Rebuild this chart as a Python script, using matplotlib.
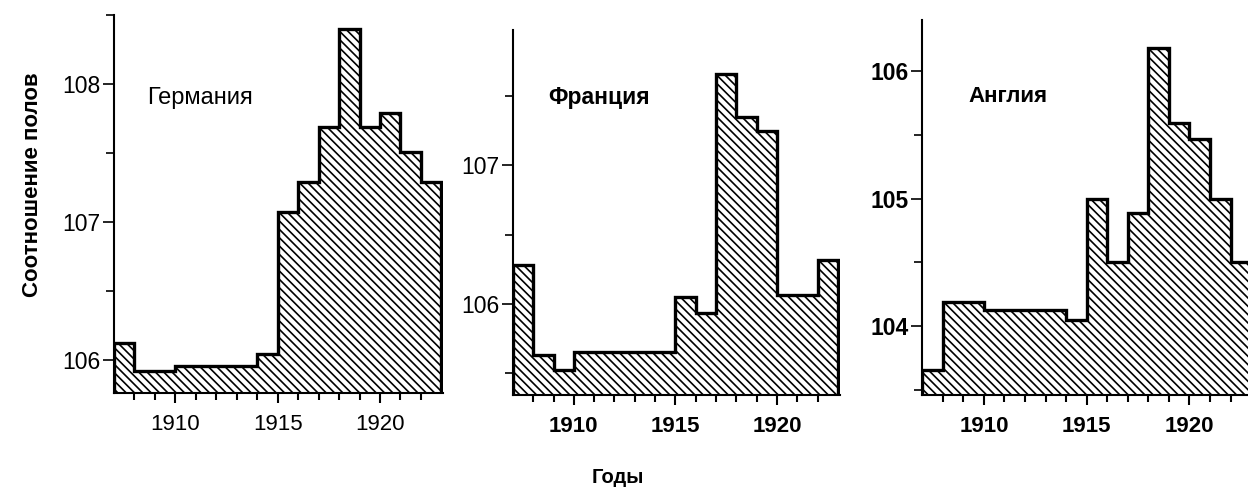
import numpy as np
from matplotlib import pyplot as plt

plt.rcParams['font.family'] = ['Liberation Sans', 'DejaVu Sans']
plt.rcParams['hatch.linewidth'] = 1.2

# годы (левые края столбиков) 1907..1922
years = np.arange(1907, 1923)
edges = np.arange(1907, 1924)

germany = [106.12, 105.92, 105.92, 105.96, 105.96, 105.96, 105.96, 106.04,
           107.07, 107.29, 107.69, 108.40, 107.69, 107.79, 107.51, 107.29]
france = [106.28, 105.63, 105.52, 105.65, 105.65, 105.65, 105.65, 105.65,
          106.05, 105.93, 107.66, 107.35, 107.25, 106.06, 106.06, 106.32]
england = [103.66, 104.19, 104.19, 104.13, 104.13, 104.13, 104.13, 104.05,
           105.00, 104.50, 104.89, 106.18, 105.59, 105.47, 105.00, 104.50]

names = ["Германия", "Франция", "Англия"]
major_x = [1910, 1915, 1920]
minor_x = np.arange(1908, 1923)

fig = plt.figure(figsize=(12.48, 4.97), dpi=100)

# позиции осей, пределы, тики
panels = [
    # (data, rect, ylim, yticks major, yticks minor, title pos, bold, title size)
    (germany, [0.0913, 0.209, 0.264, 0.761], (105.76, 108.5), [106, 107, 108], [106.5, 107.5, 108.5], (0.10, 0.78), False, 17),
    (france, [0.411, 0.205, 0.262, 0.735], (105.34, 107.98), [106, 107], [105.5, 106.5, 107.5], (0.107, 0.816), True, 16.5),
    (england, [0.739, 0.205, 0.261, 0.755], (103.46, 106.40), [104, 105, 106], [103.5, 104.5, 105.5], (0.141, 0.795), True, 16),
]
xlims = [(1907, 1923.1), (1907, 1923.1), (1907, 1922.85)]

for i, (vals, rect, ylim, ymaj, ymin, tpos, bold, tsize) in enumerate(panels):
    ax = fig.add_axes(rect)
    ax.stairs(vals, edges, baseline=ylim[0], fill=True, facecolor='white',
              edgecolor='black', hatch='\\\\\\\\', linewidth=2.4)
    ax.set_xlim(*xlims[i])
    ax.set_ylim(*ylim)
    ax.spines['top'].set_visible(False)
    ax.spines['right'].set_visible(False)
    ax.spines['left'].set_linewidth(1.5)
    ax.spines['bottom'].set_linewidth(1.5)

    ax.set_xticks(major_x)
    ax.set_xticks(minor_x, minor=True)
    ax.set_yticks(ymaj)
    ax.set_yticks(ymin, minor=True)
    ax.tick_params(axis='x', which='major', length=7, width=1.5, pad=8, labelsize=16)
    ax.tick_params(axis='x', which='minor', length=5, width=1.5)
    ax.tick_params(axis='y', which='major', length=8, width=1.2, pad=2, labelsize=16.5)
    ax.tick_params(axis='y', which='minor', length=6, width=1.2)

    w = 'bold' if bold else 'normal'
    for lab in ax.get_xticklabels():
        lab.set_fontweight(w)
    if i == 2:
        for lab in ax.get_yticklabels():
            lab.set_fontweight('bold')

    ax.text(tpos[0], tpos[1], names[i], transform=ax.transAxes, fontsize=tsize,
            fontweight=w, va='center', ha='left')

fig.text(0.026, 0.628, "Соотношение полов", rotation=90, fontsize=16,
         fontweight='bold', ha='center', va='center')
fig.text(0.495, 0.040, "Годы", fontsize=14.5, fontweight='bold', ha='center', va='center')

fig.savefig("out.png", dpi=100)
